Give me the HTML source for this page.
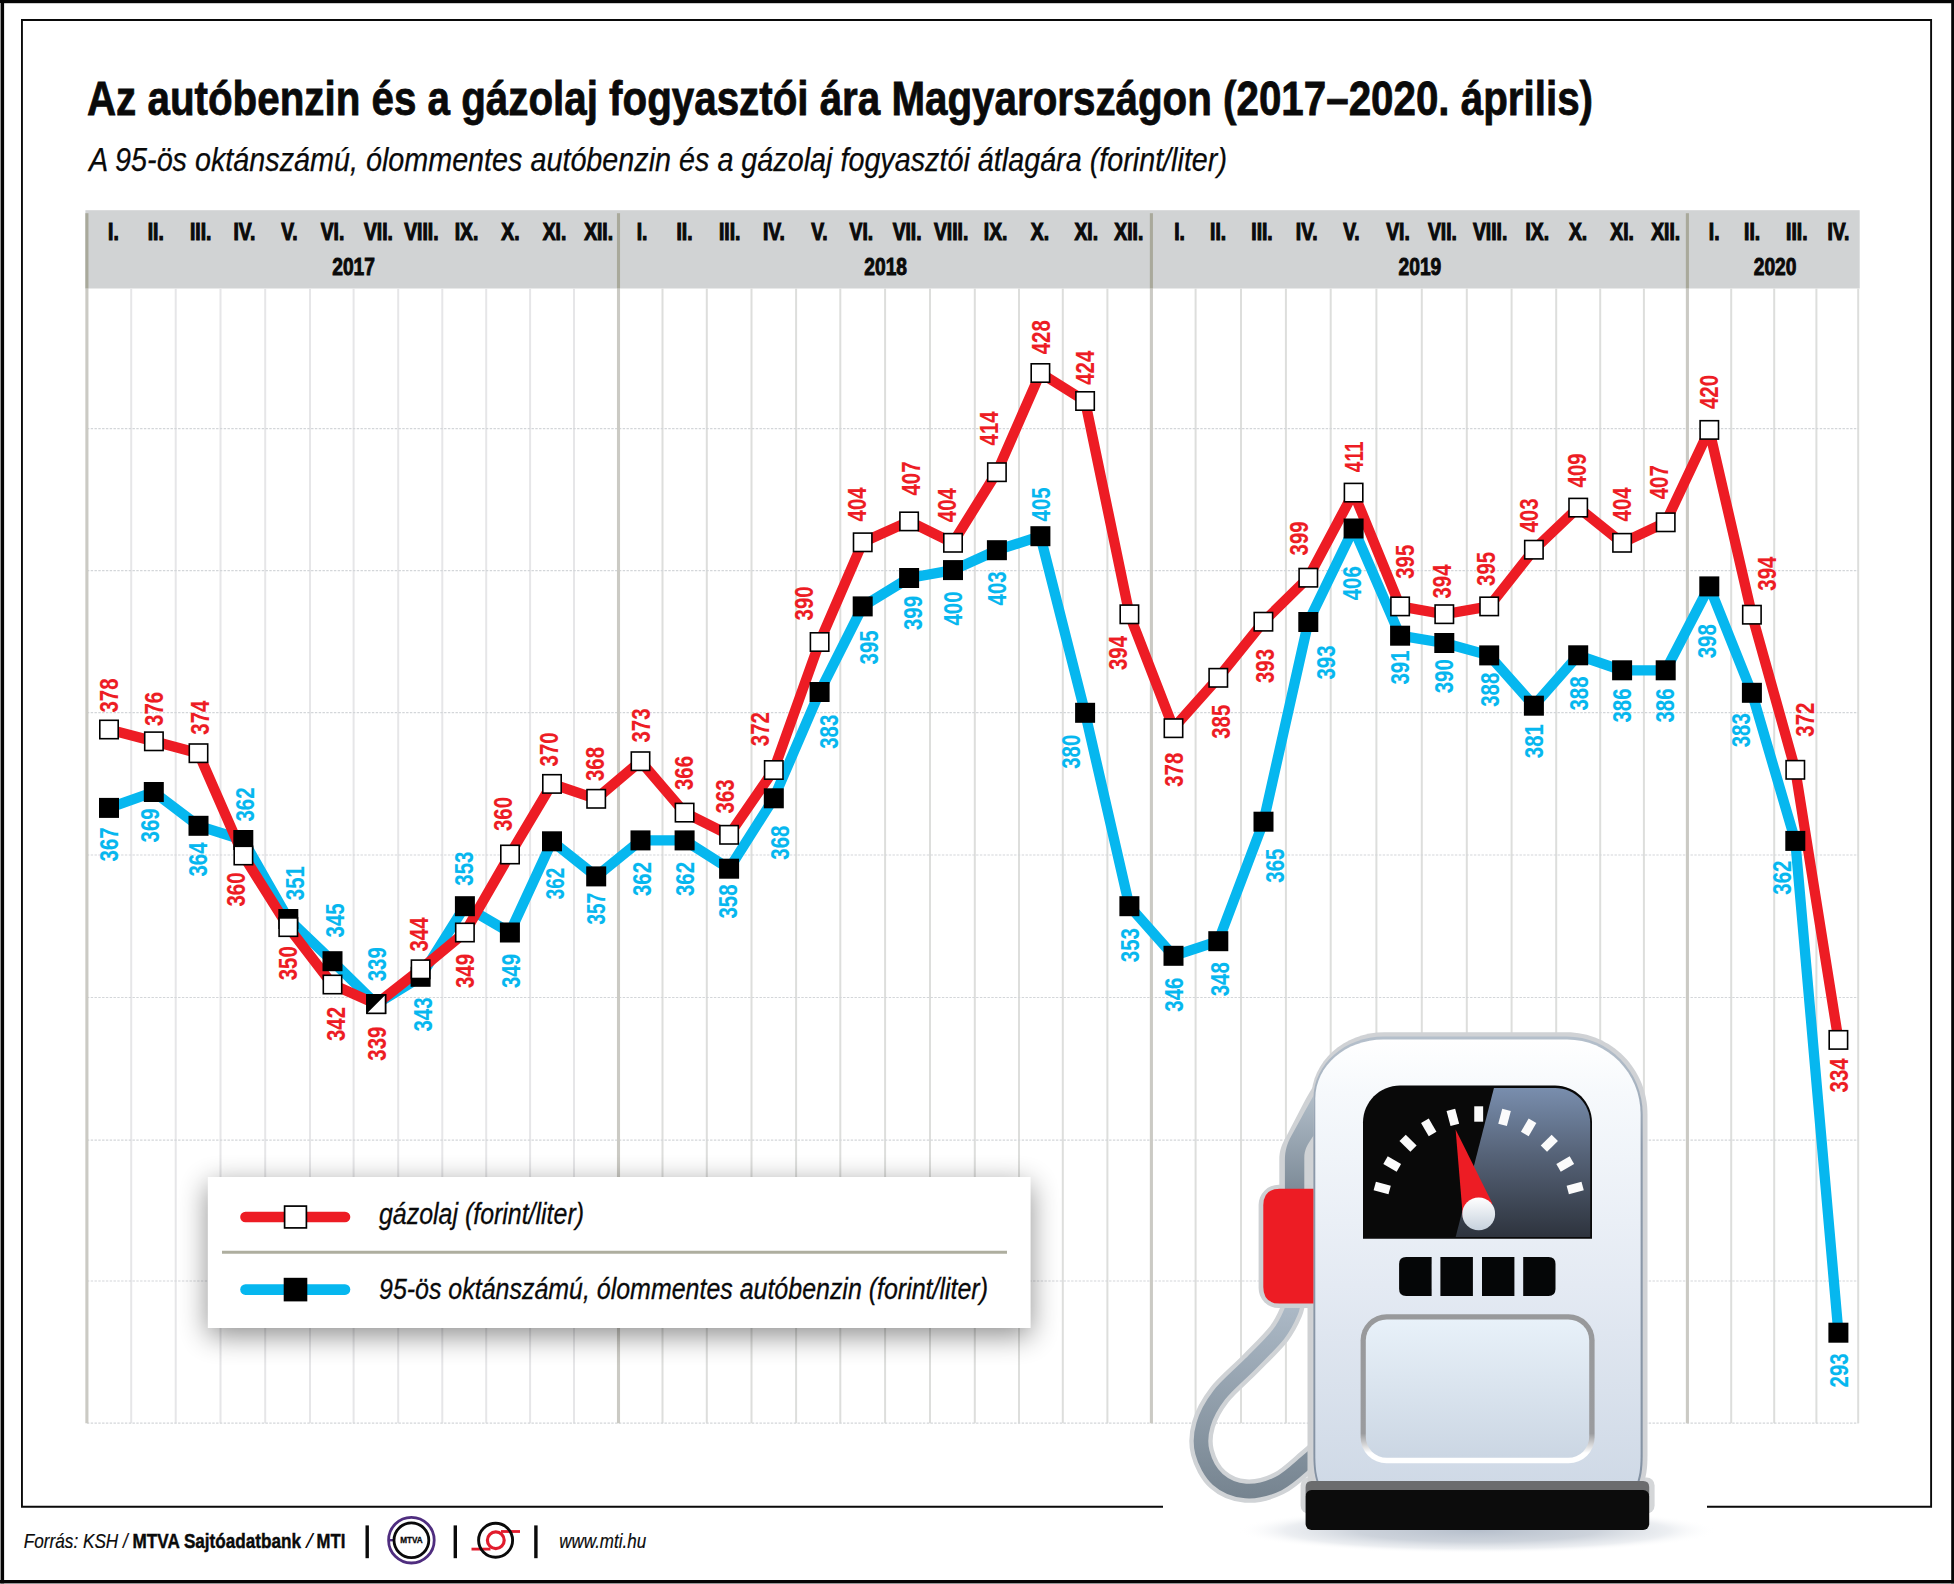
<!DOCTYPE html>
<html lang="hu"><head><meta charset="utf-8"><title>Az autóbenzin és a gázolaj fogyasztói ára Magyarországon</title>
<style>html,body{margin:0;padding:0;background:#fff;}svg{display:block;}text{font-family:"Liberation Sans",sans-serif;}</style>
</head><body>
<svg width="1954" height="1584" viewBox="0 0 1954 1584">
<defs>
<linearGradient id="gBody" x1="0" y1="0" x2="0" y2="1"><stop offset="0" stop-color="#ffffff"/><stop offset="0.12" stop-color="#f6f9fc"/><stop offset="0.55" stop-color="#e4eaf3"/><stop offset="1" stop-color="#cfd9e6"/></linearGradient>
<linearGradient id="gGauge" x1="0" y1="0" x2="0" y2="1"><stop offset="0" stop-color="#7d93b4"/><stop offset="0.45" stop-color="#566378"/><stop offset="1" stop-color="#2a2f38"/></linearGradient>
<linearGradient id="gPanel" x1="0" y1="0" x2="0" y2="1"><stop offset="0" stop-color="#e8f1f9"/><stop offset="1" stop-color="#cbd6e3"/></linearGradient>
<linearGradient id="gKnob" x1="0" y1="0" x2="0" y2="1"><stop offset="0" stop-color="#ffffff"/><stop offset="1" stop-color="#c6d1dd"/></linearGradient>
<linearGradient id="gHose" gradientUnits="userSpaceOnUse" x1="0" y1="1300" x2="0" y2="1500"><stop offset="0" stop-color="#aebbc8"/><stop offset="1" stop-color="#75838f"/></linearGradient>
<linearGradient id="gHose2" gradientUnits="userSpaceOnUse" x1="0" y1="1090" x2="0" y2="1190"><stop offset="0" stop-color="#b4c0cb"/><stop offset="1" stop-color="#7d8b98"/></linearGradient>
<filter id="fShadow" x="-10%" y="-60%" width="120%" height="220%"><feGaussianBlur stdDeviation="14.5"/></filter>
<filter id="fBase" x="-20%" y="-100%" width="140%" height="300%"><feGaussianBlur stdDeviation="7"/></filter>
</defs>
<rect x="0" y="0" width="1954" height="1584" fill="#ffffff"/>
<rect x="0" y="0" width="1954" height="3.2" fill="#050505"/><rect x="0" y="0" width="4.1" height="1584" fill="#050505"/><rect x="0" y="3" width="0.8" height="1581" fill="#b8b8b8"/><rect x="1951.2" y="0" width="2.8" height="1584" fill="#050505"/><rect x="0" y="1580" width="1954" height="3.3" fill="#050505"/><rect x="0" y="1583.3" width="1954" height="0.7" fill="#8a8a8a"/>
<path d="M1163 1506.8 L21.95 1506.8 L21.95 20 L1931.1 20 L1931.1 1506.8 L1707 1506.8" fill="none" stroke="#0a0a0a" stroke-width="1.9"/>
<text id="title" x="87" y="114.8" font-size="49" font-weight="bold" fill="#0a0a0a" stroke="#0a0a0a" stroke-width="0.8" textLength="1506" lengthAdjust="spacingAndGlyphs">Az autóbenzin és a gázolaj fogyasztói ára Magyarországon (2017–2020. április)</text>
<text id="subtitle" x="89" y="170.6" font-size="34" font-style="italic" fill="#0a0a0a" stroke="#0a0a0a" stroke-width="0.25" textLength="1138" lengthAdjust="spacingAndGlyphs">A 95-ös oktánszámú, ólommentes autóbenzin és a gázolaj fogyasztói átlagára (forint/liter)</text>
<rect x="85.4" y="210.2" width="1774.3" height="78.3" fill="#d1d3d4"/>
<g><line x1="131.2" y1="288.5" x2="131.2" y2="1423.2" stroke="#e6e6e8" stroke-width="2"/><line x1="175.7" y1="288.5" x2="175.7" y2="1423.2" stroke="#e6e6e8" stroke-width="2"/><line x1="220.5" y1="288.5" x2="220.5" y2="1423.2" stroke="#e6e6e8" stroke-width="2"/><line x1="265.2" y1="288.5" x2="265.2" y2="1423.2" stroke="#e6e6e8" stroke-width="2"/><line x1="310.0" y1="288.5" x2="310.0" y2="1423.2" stroke="#e6e6e8" stroke-width="2"/><line x1="353.6" y1="288.5" x2="353.6" y2="1423.2" stroke="#e6e6e8" stroke-width="2"/><line x1="398.2" y1="288.5" x2="398.2" y2="1423.2" stroke="#e6e6e8" stroke-width="2"/><line x1="442.3" y1="288.5" x2="442.3" y2="1423.2" stroke="#e6e6e8" stroke-width="2"/><line x1="486.2" y1="288.5" x2="486.2" y2="1423.2" stroke="#e6e6e8" stroke-width="2"/><line x1="530.1" y1="288.5" x2="530.1" y2="1423.2" stroke="#e6e6e8" stroke-width="2"/><line x1="574.0" y1="288.5" x2="574.0" y2="1423.2" stroke="#e6e6e8" stroke-width="2"/><line x1="662.5" y1="288.5" x2="662.5" y2="1423.2" stroke="#dddedc" stroke-width="2"/><line x1="706.8" y1="288.5" x2="706.8" y2="1423.2" stroke="#dddedc" stroke-width="2"/><line x1="751.5" y1="288.5" x2="751.5" y2="1423.2" stroke="#dddedc" stroke-width="2"/><line x1="796.1" y1="288.5" x2="796.1" y2="1423.2" stroke="#dddedc" stroke-width="2"/><line x1="840.3" y1="288.5" x2="840.3" y2="1423.2" stroke="#dddedc" stroke-width="2"/><line x1="885.1" y1="288.5" x2="885.1" y2="1423.2" stroke="#dddedc" stroke-width="2"/><line x1="930.0" y1="288.5" x2="930.0" y2="1423.2" stroke="#dddedc" stroke-width="2"/><line x1="974.8" y1="288.5" x2="974.8" y2="1423.2" stroke="#dddedc" stroke-width="2"/><line x1="1019.0" y1="288.5" x2="1019.0" y2="1423.2" stroke="#dddedc" stroke-width="2"/><line x1="1062.8" y1="288.5" x2="1062.8" y2="1423.2" stroke="#dddedc" stroke-width="2"/><line x1="1107.4" y1="288.5" x2="1107.4" y2="1423.2" stroke="#dddedc" stroke-width="2"/><line x1="1195.6" y1="288.5" x2="1195.6" y2="1423.2" stroke="#dddedc" stroke-width="2"/><line x1="1241.0" y1="288.5" x2="1241.0" y2="1423.2" stroke="#dddedc" stroke-width="2"/><line x1="1285.9" y1="288.5" x2="1285.9" y2="1423.2" stroke="#dddedc" stroke-width="2"/><line x1="1330.7" y1="288.5" x2="1330.7" y2="1423.2" stroke="#dddedc" stroke-width="2"/><line x1="1376.4" y1="288.5" x2="1376.4" y2="1423.2" stroke="#dddedc" stroke-width="2"/><line x1="1421.8" y1="288.5" x2="1421.8" y2="1423.2" stroke="#dddedc" stroke-width="2"/><line x1="1466.8" y1="288.5" x2="1466.8" y2="1423.2" stroke="#dddedc" stroke-width="2"/><line x1="1511.6" y1="288.5" x2="1511.6" y2="1423.2" stroke="#dddedc" stroke-width="2"/><line x1="1556.2" y1="288.5" x2="1556.2" y2="1423.2" stroke="#dddedc" stroke-width="2"/><line x1="1600.2" y1="288.5" x2="1600.2" y2="1423.2" stroke="#dddedc" stroke-width="2"/><line x1="1643.9" y1="288.5" x2="1643.9" y2="1423.2" stroke="#dddedc" stroke-width="2"/><line x1="1731.2" y1="288.5" x2="1731.2" y2="1423.2" stroke="#dddedc" stroke-width="2"/><line x1="1774.2" y1="288.5" x2="1774.2" y2="1423.2" stroke="#dddedc" stroke-width="2"/><line x1="1816.4" y1="288.5" x2="1816.4" y2="1423.2" stroke="#dddedc" stroke-width="2"/><line x1="1858.2" y1="288.5" x2="1858.2" y2="1423.2" stroke="#dddedc" stroke-width="2"/></g>
<g><line x1="86.9" y1="428.6" x2="1858.3" y2="428.6" stroke="#d3d6d9" stroke-width="1.2" stroke-dasharray="2.4 1.4"/><line x1="86.9" y1="570.6" x2="1858.3" y2="570.6" stroke="#d3d6d9" stroke-width="1.2" stroke-dasharray="2.4 1.4"/><line x1="86.9" y1="712.7" x2="1858.3" y2="712.7" stroke="#d3d6d9" stroke-width="1.2" stroke-dasharray="2.4 1.4"/><line x1="86.9" y1="855.0" x2="1858.3" y2="855.0" stroke="#d3d6d9" stroke-width="1.2" stroke-dasharray="2.4 1.4"/><line x1="86.9" y1="997.5" x2="1858.3" y2="997.5" stroke="#d3d6d9" stroke-width="1.2" stroke-dasharray="2.4 1.4"/><line x1="86.9" y1="1140.2" x2="1858.3" y2="1140.2" stroke="#d3d6d9" stroke-width="1.2" stroke-dasharray="2.4 1.4"/><line x1="86.9" y1="1281.0" x2="1858.3" y2="1281.0" stroke="#d3d6d9" stroke-width="1.2" stroke-dasharray="2.4 1.4"/><line x1="86.9" y1="1423.2" x2="1858.3" y2="1423.2" stroke="#d3d6d9" stroke-width="1.2" stroke-dasharray="2.4 1.4"/></g>
<line x1="86.9" y1="288.5" x2="86.9" y2="1423.2" stroke="#cbcac4" stroke-width="3.1"/>
<line x1="86.9" y1="213.2" x2="86.9" y2="288.5" stroke="#a9a99b" stroke-width="3.1"/>
<line x1="618.5" y1="288.5" x2="618.5" y2="1423.2" stroke="#cbcac4" stroke-width="3.1"/>
<line x1="618.5" y1="213.2" x2="618.5" y2="288.5" stroke="#a9a99b" stroke-width="3.1"/>
<line x1="1151.4" y1="288.5" x2="1151.4" y2="1423.2" stroke="#cbcac4" stroke-width="3.1"/>
<line x1="1151.4" y1="213.2" x2="1151.4" y2="288.5" stroke="#a9a99b" stroke-width="3.1"/>
<line x1="1687.4" y1="288.5" x2="1687.4" y2="1423.2" stroke="#cbcac4" stroke-width="3.1"/>
<line x1="1687.4" y1="213.2" x2="1687.4" y2="288.5" stroke="#a9a99b" stroke-width="3.1"/>
<g><text transform="translate(113.4 240.1) scale(0.825 1)" font-size="23.4" font-weight="bold" text-anchor="middle" fill="#0a0a0a" stroke="#0a0a0a" stroke-width="1.1" stroke-linejoin="miter">I.</text><text transform="translate(155.8 240.1) scale(0.825 1)" font-size="23.4" font-weight="bold" text-anchor="middle" fill="#0a0a0a" stroke="#0a0a0a" stroke-width="1.1" stroke-linejoin="miter">II.</text><text transform="translate(200.7 240.1) scale(0.825 1)" font-size="23.4" font-weight="bold" text-anchor="middle" fill="#0a0a0a" stroke="#0a0a0a" stroke-width="1.1" stroke-linejoin="miter">III.</text><text transform="translate(244.4 240.1) scale(0.825 1)" font-size="23.4" font-weight="bold" text-anchor="middle" fill="#0a0a0a" stroke="#0a0a0a" stroke-width="1.1" stroke-linejoin="miter">IV.</text><text transform="translate(289.4 240.1) scale(0.825 1)" font-size="23.4" font-weight="bold" text-anchor="middle" fill="#0a0a0a" stroke="#0a0a0a" stroke-width="1.1" stroke-linejoin="miter">V.</text><text transform="translate(332.5 240.1) scale(0.825 1)" font-size="23.4" font-weight="bold" text-anchor="middle" fill="#0a0a0a" stroke="#0a0a0a" stroke-width="1.1" stroke-linejoin="miter">VI.</text><text transform="translate(378.4 240.1) scale(0.825 1)" font-size="23.4" font-weight="bold" text-anchor="middle" fill="#0a0a0a" stroke="#0a0a0a" stroke-width="1.1" stroke-linejoin="miter">VII.</text><text transform="translate(421.4 240.1) scale(0.825 1)" font-size="23.4" font-weight="bold" text-anchor="middle" fill="#0a0a0a" stroke="#0a0a0a" stroke-width="1.1" stroke-linejoin="miter">VIII.</text><text transform="translate(466.5 240.1) scale(0.825 1)" font-size="23.4" font-weight="bold" text-anchor="middle" fill="#0a0a0a" stroke="#0a0a0a" stroke-width="1.1" stroke-linejoin="miter">IX.</text><text transform="translate(510.4 240.1) scale(0.825 1)" font-size="23.4" font-weight="bold" text-anchor="middle" fill="#0a0a0a" stroke="#0a0a0a" stroke-width="1.1" stroke-linejoin="miter">X.</text><text transform="translate(554.5 240.1) scale(0.825 1)" font-size="23.4" font-weight="bold" text-anchor="middle" fill="#0a0a0a" stroke="#0a0a0a" stroke-width="1.1" stroke-linejoin="miter">XI.</text><text transform="translate(598.6 240.1) scale(0.825 1)" font-size="23.4" font-weight="bold" text-anchor="middle" fill="#0a0a0a" stroke="#0a0a0a" stroke-width="1.1" stroke-linejoin="miter">XII.</text><text transform="translate(642.0 240.1) scale(0.825 1)" font-size="23.4" font-weight="bold" text-anchor="middle" fill="#0a0a0a" stroke="#0a0a0a" stroke-width="1.1" stroke-linejoin="miter">I.</text><text transform="translate(684.5 240.1) scale(0.825 1)" font-size="23.4" font-weight="bold" text-anchor="middle" fill="#0a0a0a" stroke="#0a0a0a" stroke-width="1.1" stroke-linejoin="miter">II.</text><text transform="translate(729.7 240.1) scale(0.825 1)" font-size="23.4" font-weight="bold" text-anchor="middle" fill="#0a0a0a" stroke="#0a0a0a" stroke-width="1.1" stroke-linejoin="miter">III.</text><text transform="translate(773.9 240.1) scale(0.825 1)" font-size="23.4" font-weight="bold" text-anchor="middle" fill="#0a0a0a" stroke="#0a0a0a" stroke-width="1.1" stroke-linejoin="miter">IV.</text><text transform="translate(819.4 240.1) scale(0.825 1)" font-size="23.4" font-weight="bold" text-anchor="middle" fill="#0a0a0a" stroke="#0a0a0a" stroke-width="1.1" stroke-linejoin="miter">V.</text><text transform="translate(861.4 240.1) scale(0.825 1)" font-size="23.4" font-weight="bold" text-anchor="middle" fill="#0a0a0a" stroke="#0a0a0a" stroke-width="1.1" stroke-linejoin="miter">VI.</text><text transform="translate(907.1 240.1) scale(0.825 1)" font-size="23.4" font-weight="bold" text-anchor="middle" fill="#0a0a0a" stroke="#0a0a0a" stroke-width="1.1" stroke-linejoin="miter">VII.</text><text transform="translate(951.1 240.1) scale(0.825 1)" font-size="23.4" font-weight="bold" text-anchor="middle" fill="#0a0a0a" stroke="#0a0a0a" stroke-width="1.1" stroke-linejoin="miter">VIII.</text><text transform="translate(995.6 240.1) scale(0.825 1)" font-size="23.4" font-weight="bold" text-anchor="middle" fill="#0a0a0a" stroke="#0a0a0a" stroke-width="1.1" stroke-linejoin="miter">IX.</text><text transform="translate(1039.9 240.1) scale(0.825 1)" font-size="23.4" font-weight="bold" text-anchor="middle" fill="#0a0a0a" stroke="#0a0a0a" stroke-width="1.1" stroke-linejoin="miter">X.</text><text transform="translate(1086.2 240.1) scale(0.825 1)" font-size="23.4" font-weight="bold" text-anchor="middle" fill="#0a0a0a" stroke="#0a0a0a" stroke-width="1.1" stroke-linejoin="miter">XI.</text><text transform="translate(1128.8 240.1) scale(0.825 1)" font-size="23.4" font-weight="bold" text-anchor="middle" fill="#0a0a0a" stroke="#0a0a0a" stroke-width="1.1" stroke-linejoin="miter">XII.</text><text transform="translate(1179.6 240.1) scale(0.825 1)" font-size="23.4" font-weight="bold" text-anchor="middle" fill="#0a0a0a" stroke="#0a0a0a" stroke-width="1.1" stroke-linejoin="miter">I.</text><text transform="translate(1218.1 240.1) scale(0.825 1)" font-size="23.4" font-weight="bold" text-anchor="middle" fill="#0a0a0a" stroke="#0a0a0a" stroke-width="1.1" stroke-linejoin="miter">II.</text><text transform="translate(1262.0 240.1) scale(0.825 1)" font-size="23.4" font-weight="bold" text-anchor="middle" fill="#0a0a0a" stroke="#0a0a0a" stroke-width="1.1" stroke-linejoin="miter">III.</text><text transform="translate(1306.7 240.1) scale(0.825 1)" font-size="23.4" font-weight="bold" text-anchor="middle" fill="#0a0a0a" stroke="#0a0a0a" stroke-width="1.1" stroke-linejoin="miter">IV.</text><text transform="translate(1351.5 240.1) scale(0.825 1)" font-size="23.4" font-weight="bold" text-anchor="middle" fill="#0a0a0a" stroke="#0a0a0a" stroke-width="1.1" stroke-linejoin="miter">V.</text><text transform="translate(1398.0 240.1) scale(0.825 1)" font-size="23.4" font-weight="bold" text-anchor="middle" fill="#0a0a0a" stroke="#0a0a0a" stroke-width="1.1" stroke-linejoin="miter">VI.</text><text transform="translate(1442.4 240.1) scale(0.825 1)" font-size="23.4" font-weight="bold" text-anchor="middle" fill="#0a0a0a" stroke="#0a0a0a" stroke-width="1.1" stroke-linejoin="miter">VII.</text><text transform="translate(1490.1 240.1) scale(0.825 1)" font-size="23.4" font-weight="bold" text-anchor="middle" fill="#0a0a0a" stroke="#0a0a0a" stroke-width="1.1" stroke-linejoin="miter">VIII.</text><text transform="translate(1537.2 240.1) scale(0.825 1)" font-size="23.4" font-weight="bold" text-anchor="middle" fill="#0a0a0a" stroke="#0a0a0a" stroke-width="1.1" stroke-linejoin="miter">IX.</text><text transform="translate(1578.1 240.1) scale(0.825 1)" font-size="23.4" font-weight="bold" text-anchor="middle" fill="#0a0a0a" stroke="#0a0a0a" stroke-width="1.1" stroke-linejoin="miter">X.</text><text transform="translate(1622.1 240.1) scale(0.825 1)" font-size="23.4" font-weight="bold" text-anchor="middle" fill="#0a0a0a" stroke="#0a0a0a" stroke-width="1.1" stroke-linejoin="miter">XI.</text><text transform="translate(1665.7 240.1) scale(0.825 1)" font-size="23.4" font-weight="bold" text-anchor="middle" fill="#0a0a0a" stroke="#0a0a0a" stroke-width="1.1" stroke-linejoin="miter">XII.</text><text transform="translate(1714.2 240.1) scale(0.825 1)" font-size="23.4" font-weight="bold" text-anchor="middle" fill="#0a0a0a" stroke="#0a0a0a" stroke-width="1.1" stroke-linejoin="miter">I.</text><text transform="translate(1752.1 240.1) scale(0.825 1)" font-size="23.4" font-weight="bold" text-anchor="middle" fill="#0a0a0a" stroke="#0a0a0a" stroke-width="1.1" stroke-linejoin="miter">II.</text><text transform="translate(1796.8 240.1) scale(0.825 1)" font-size="23.4" font-weight="bold" text-anchor="middle" fill="#0a0a0a" stroke="#0a0a0a" stroke-width="1.1" stroke-linejoin="miter">III.</text><text transform="translate(1838.4 240.1) scale(0.825 1)" font-size="23.4" font-weight="bold" text-anchor="middle" fill="#0a0a0a" stroke="#0a0a0a" stroke-width="1.1" stroke-linejoin="miter">IV.</text></g>
<text transform="translate(353.6 275.2) scale(0.81 1)" font-size="23.7" font-weight="bold" text-anchor="middle" fill="#0a0a0a" stroke="#0a0a0a" stroke-width="0.95">2017</text>
<text transform="translate(885.7 275.2) scale(0.81 1)" font-size="23.7" font-weight="bold" text-anchor="middle" fill="#0a0a0a" stroke="#0a0a0a" stroke-width="0.95">2018</text>
<text transform="translate(1419.9 275.2) scale(0.81 1)" font-size="23.7" font-weight="bold" text-anchor="middle" fill="#0a0a0a" stroke="#0a0a0a" stroke-width="0.95">2019</text>
<text transform="translate(1775.1 275.2) scale(0.81 1)" font-size="23.7" font-weight="bold" text-anchor="middle" fill="#0a0a0a" stroke="#0a0a0a" stroke-width="0.95">2020</text>
<polyline points="109.0,807.9 153.8,792.0 198.5,825.8 243.3,840.0 288.3,919.0 332.5,961.2 376.3,1004.1 420.6,976.8 464.9,906.2 509.9,932.5 552.0,841.3 596.2,876.4 640.5,840.4 684.6,840.4 729.1,868.7 773.8,798.3 819.6,692.0 862.7,606.4 909.1,578.0 953.0,570.1 996.9,550.2 1040.4,536.2 1085.1,712.8 1129.4,906.2 1173.5,955.8 1218.3,941.2 1263.5,821.7 1308.3,622.0 1353.6,528.5 1400.1,635.7 1444.3,643.0 1489.2,655.4 1533.9,705.7 1578.2,655.3 1622.1,670.3 1665.7,670.3 1709.3,586.4 1751.9,692.8 1795.3,840.9 1838.4,1332.7" fill="none" stroke="#06b7ef" stroke-width="10.3" stroke-linejoin="round" stroke-linecap="butt"/>
<polyline points="109.0,729.5 153.8,741.3 198.5,753.2 243.3,855.5 288.3,927.1 332.5,984.5 376.3,1004.1 420.6,969.3 464.9,932.5 509.9,854.5 552.0,783.9 596.2,798.8 640.5,761.2 684.6,812.6 729.1,834.8 773.8,770.0 819.6,642.0 862.7,542.3 909.1,521.4 953.0,542.8 996.9,472.2 1040.4,373.0 1085.1,401.0 1129.4,614.3 1173.5,728.2 1218.3,677.8 1263.5,621.7 1308.3,577.7 1353.6,492.6 1400.1,606.4 1444.3,614.2 1489.2,606.4 1533.9,549.7 1578.2,507.6 1622.1,542.8 1665.7,522.3 1709.3,429.9 1751.9,614.7 1795.3,769.8 1838.4,1039.9" fill="none" stroke="#ed1c24" stroke-width="10.3" stroke-linejoin="round" stroke-linecap="butt"/>
<g><rect x="99.0" y="797.9" width="20" height="20" fill="#000"/><rect x="143.8" y="782.0" width="20" height="20" fill="#000"/><rect x="188.5" y="815.8" width="20" height="20" fill="#000"/><rect x="233.3" y="830.0" width="20" height="20" fill="#000"/><rect x="278.3" y="909.0" width="20" height="20" fill="#000"/><rect x="322.5" y="951.2" width="20" height="20" fill="#000"/><rect x="366.3" y="994.1" width="20" height="20" fill="#000"/><rect x="410.6" y="966.8" width="20" height="20" fill="#000"/><rect x="454.9" y="896.2" width="20" height="20" fill="#000"/><rect x="499.9" y="922.5" width="20" height="20" fill="#000"/><rect x="542.0" y="831.3" width="20" height="20" fill="#000"/><rect x="586.2" y="866.4" width="20" height="20" fill="#000"/><rect x="630.5" y="830.4" width="20" height="20" fill="#000"/><rect x="674.6" y="830.4" width="20" height="20" fill="#000"/><rect x="719.1" y="858.7" width="20" height="20" fill="#000"/><rect x="763.8" y="788.3" width="20" height="20" fill="#000"/><rect x="809.6" y="682.0" width="20" height="20" fill="#000"/><rect x="852.7" y="596.4" width="20" height="20" fill="#000"/><rect x="899.1" y="568.0" width="20" height="20" fill="#000"/><rect x="943.0" y="560.1" width="20" height="20" fill="#000"/><rect x="986.9" y="540.2" width="20" height="20" fill="#000"/><rect x="1030.4" y="526.2" width="20" height="20" fill="#000"/><rect x="1075.1" y="702.8" width="20" height="20" fill="#000"/><rect x="1119.4" y="896.2" width="20" height="20" fill="#000"/><rect x="1163.5" y="945.8" width="20" height="20" fill="#000"/><rect x="1208.3" y="931.2" width="20" height="20" fill="#000"/><rect x="1253.5" y="811.7" width="20" height="20" fill="#000"/><rect x="1298.3" y="612.0" width="20" height="20" fill="#000"/><rect x="1343.6" y="518.5" width="20" height="20" fill="#000"/><rect x="1390.1" y="625.7" width="20" height="20" fill="#000"/><rect x="1434.3" y="633.0" width="20" height="20" fill="#000"/><rect x="1479.2" y="645.4" width="20" height="20" fill="#000"/><rect x="1523.9" y="695.7" width="20" height="20" fill="#000"/><rect x="1568.2" y="645.3" width="20" height="20" fill="#000"/><rect x="1612.1" y="660.3" width="20" height="20" fill="#000"/><rect x="1655.7" y="660.3" width="20" height="20" fill="#000"/><rect x="1699.3" y="576.4" width="20" height="20" fill="#000"/><rect x="1741.9" y="682.8" width="20" height="20" fill="#000"/><rect x="1785.3" y="830.9" width="20" height="20" fill="#000"/><rect x="1828.4" y="1322.7" width="20" height="20" fill="#000"/></g>
<g><rect x="99.8" y="720.3" width="18.4" height="18.4" fill="#fff" stroke="#000" stroke-width="1.6"/><rect x="144.7" y="732.1" width="18.4" height="18.4" fill="#fff" stroke="#000" stroke-width="1.6"/><rect x="189.3" y="744.0" width="18.4" height="18.4" fill="#fff" stroke="#000" stroke-width="1.6"/><rect x="234.2" y="846.3" width="18.4" height="18.4" fill="#fff" stroke="#000" stroke-width="1.6"/><rect x="279.1" y="917.9" width="18.4" height="18.4" fill="#fff" stroke="#000" stroke-width="1.6"/><rect x="323.3" y="975.3" width="18.4" height="18.4" fill="#fff" stroke="#000" stroke-width="1.6"/><rect x="367.1" y="994.9" width="18.4" height="18.4" fill="#fff" stroke="#000" stroke-width="1.6"/><path d="M366.3 994.1 L386.3 994.1 L366.3 1014.1 Z" fill="#000"/><rect x="411.4" y="960.1" width="18.4" height="18.4" fill="#fff" stroke="#000" stroke-width="1.6"/><rect x="455.7" y="923.3" width="18.4" height="18.4" fill="#fff" stroke="#000" stroke-width="1.6"/><rect x="500.8" y="845.3" width="18.4" height="18.4" fill="#fff" stroke="#000" stroke-width="1.6"/><rect x="542.8" y="774.7" width="18.4" height="18.4" fill="#fff" stroke="#000" stroke-width="1.6"/><rect x="587.0" y="789.6" width="18.4" height="18.4" fill="#fff" stroke="#000" stroke-width="1.6"/><rect x="631.3" y="752.0" width="18.4" height="18.4" fill="#fff" stroke="#000" stroke-width="1.6"/><rect x="675.4" y="803.4" width="18.4" height="18.4" fill="#fff" stroke="#000" stroke-width="1.6"/><rect x="719.9" y="825.6" width="18.4" height="18.4" fill="#fff" stroke="#000" stroke-width="1.6"/><rect x="764.6" y="760.8" width="18.4" height="18.4" fill="#fff" stroke="#000" stroke-width="1.6"/><rect x="810.4" y="632.8" width="18.4" height="18.4" fill="#fff" stroke="#000" stroke-width="1.6"/><rect x="853.5" y="533.1" width="18.4" height="18.4" fill="#fff" stroke="#000" stroke-width="1.6"/><rect x="899.9" y="512.2" width="18.4" height="18.4" fill="#fff" stroke="#000" stroke-width="1.6"/><rect x="943.8" y="533.6" width="18.4" height="18.4" fill="#fff" stroke="#000" stroke-width="1.6"/><rect x="987.7" y="463.0" width="18.4" height="18.4" fill="#fff" stroke="#000" stroke-width="1.6"/><rect x="1031.2" y="363.8" width="18.4" height="18.4" fill="#fff" stroke="#000" stroke-width="1.6"/><rect x="1075.9" y="391.8" width="18.4" height="18.4" fill="#fff" stroke="#000" stroke-width="1.6"/><rect x="1120.2" y="605.1" width="18.4" height="18.4" fill="#fff" stroke="#000" stroke-width="1.6"/><rect x="1164.3" y="719.0" width="18.4" height="18.4" fill="#fff" stroke="#000" stroke-width="1.6"/><rect x="1209.1" y="668.6" width="18.4" height="18.4" fill="#fff" stroke="#000" stroke-width="1.6"/><rect x="1254.2" y="612.5" width="18.4" height="18.4" fill="#fff" stroke="#000" stroke-width="1.6"/><rect x="1299.1" y="568.5" width="18.4" height="18.4" fill="#fff" stroke="#000" stroke-width="1.6"/><rect x="1344.4" y="483.4" width="18.4" height="18.4" fill="#fff" stroke="#000" stroke-width="1.6"/><rect x="1390.9" y="597.2" width="18.4" height="18.4" fill="#fff" stroke="#000" stroke-width="1.6"/><rect x="1435.1" y="605.0" width="18.4" height="18.4" fill="#fff" stroke="#000" stroke-width="1.6"/><rect x="1480.0" y="597.2" width="18.4" height="18.4" fill="#fff" stroke="#000" stroke-width="1.6"/><rect x="1524.7" y="540.5" width="18.4" height="18.4" fill="#fff" stroke="#000" stroke-width="1.6"/><rect x="1569.0" y="498.4" width="18.4" height="18.4" fill="#fff" stroke="#000" stroke-width="1.6"/><rect x="1612.9" y="533.6" width="18.4" height="18.4" fill="#fff" stroke="#000" stroke-width="1.6"/><rect x="1656.5" y="513.1" width="18.4" height="18.4" fill="#fff" stroke="#000" stroke-width="1.6"/><rect x="1700.1" y="420.7" width="18.4" height="18.4" fill="#fff" stroke="#000" stroke-width="1.6"/><rect x="1742.7" y="605.5" width="18.4" height="18.4" fill="#fff" stroke="#000" stroke-width="1.6"/><rect x="1786.1" y="760.6" width="18.4" height="18.4" fill="#fff" stroke="#000" stroke-width="1.6"/><rect x="1829.2" y="1030.7" width="18.4" height="18.4" fill="#fff" stroke="#000" stroke-width="1.6"/></g>
<g id="labels"><text transform="translate(118.4 712.6) rotate(-90) scale(0.784 1)" font-size="26.1" font-weight="bold" fill="#ed1c24" stroke="#ed1c24" stroke-width="0.15">378</text><text transform="translate(163.2 725.9) rotate(-90) scale(0.784 1)" font-size="26.1" font-weight="bold" fill="#ed1c24" stroke="#ed1c24" stroke-width="0.15">376</text><text transform="translate(208.8 734.7) rotate(-90) scale(0.784 1)" font-size="26.1" font-weight="bold" fill="#ed1c24" stroke="#ed1c24" stroke-width="0.15">374</text><text transform="translate(245.0 906.6) rotate(-90) scale(0.784 1)" font-size="26.1" font-weight="bold" fill="#ed1c24" stroke="#ed1c24" stroke-width="0.15">360</text><text transform="translate(296.6 980.3) rotate(-90) scale(0.784 1)" font-size="26.1" font-weight="bold" fill="#ed1c24" stroke="#ed1c24" stroke-width="0.15">350</text><text transform="translate(344.6 1041.1) rotate(-90) scale(0.784 1)" font-size="26.1" font-weight="bold" fill="#ed1c24" stroke="#ed1c24" stroke-width="0.15">342</text><text transform="translate(386.1 1060.7) rotate(-90) scale(0.784 1)" font-size="26.1" font-weight="bold" fill="#ed1c24" stroke="#ed1c24" stroke-width="0.15">339</text><text transform="translate(428.3 951.5) rotate(-90) scale(0.784 1)" font-size="26.1" font-weight="bold" fill="#ed1c24" stroke="#ed1c24" stroke-width="0.15">344</text><text transform="translate(473.9 988.0) rotate(-90) scale(0.784 1)" font-size="26.1" font-weight="bold" fill="#ed1c24" stroke="#ed1c24" stroke-width="0.15">349</text><text transform="translate(511.8 831.0) rotate(-90) scale(0.784 1)" font-size="26.1" font-weight="bold" fill="#ed1c24" stroke="#ed1c24" stroke-width="0.15">360</text><text transform="translate(558.4 766.4) rotate(-90) scale(0.784 1)" font-size="26.1" font-weight="bold" fill="#ed1c24" stroke="#ed1c24" stroke-width="0.15">370</text><text transform="translate(604.0 781.0) rotate(-90) scale(0.784 1)" font-size="26.1" font-weight="bold" fill="#ed1c24" stroke="#ed1c24" stroke-width="0.15">368</text><text transform="translate(650.2 742.6) rotate(-90) scale(0.784 1)" font-size="26.1" font-weight="bold" fill="#ed1c24" stroke="#ed1c24" stroke-width="0.15">373</text><text transform="translate(693.2 790.0) rotate(-90) scale(0.784 1)" font-size="26.1" font-weight="bold" fill="#ed1c24" stroke="#ed1c24" stroke-width="0.15">366</text><text transform="translate(733.8 813.4) rotate(-90) scale(0.784 1)" font-size="26.1" font-weight="bold" fill="#ed1c24" stroke="#ed1c24" stroke-width="0.15">363</text><text transform="translate(768.9 746.2) rotate(-90) scale(0.784 1)" font-size="26.1" font-weight="bold" fill="#ed1c24" stroke="#ed1c24" stroke-width="0.15">372</text><text transform="translate(813.2 620.4) rotate(-90) scale(0.784 1)" font-size="26.1" font-weight="bold" fill="#ed1c24" stroke="#ed1c24" stroke-width="0.15">390</text><text transform="translate(866.1 521.4) rotate(-90) scale(0.784 1)" font-size="26.1" font-weight="bold" fill="#ed1c24" stroke="#ed1c24" stroke-width="0.15">404</text><text transform="translate(919.6 495.6) rotate(-90) scale(0.784 1)" font-size="26.1" font-weight="bold" fill="#ed1c24" stroke="#ed1c24" stroke-width="0.15">407</text><text transform="translate(956.0 522.2) rotate(-90) scale(0.784 1)" font-size="26.1" font-weight="bold" fill="#ed1c24" stroke="#ed1c24" stroke-width="0.15">404</text><text transform="translate(997.9 445.4) rotate(-90) scale(0.784 1)" font-size="26.1" font-weight="bold" fill="#ed1c24" stroke="#ed1c24" stroke-width="0.15">414</text><text transform="translate(1050.4 354.3) rotate(-90) scale(0.784 1)" font-size="26.1" font-weight="bold" fill="#ed1c24" stroke="#ed1c24" stroke-width="0.15">428</text><text transform="translate(1094.4 384.8) rotate(-90) scale(0.784 1)" font-size="26.1" font-weight="bold" fill="#ed1c24" stroke="#ed1c24" stroke-width="0.15">424</text><text transform="translate(1126.5 670.0) rotate(-90) scale(0.784 1)" font-size="26.1" font-weight="bold" fill="#ed1c24" stroke="#ed1c24" stroke-width="0.15">394</text><text transform="translate(1183.1 786.8) rotate(-90) scale(0.784 1)" font-size="26.1" font-weight="bold" fill="#ed1c24" stroke="#ed1c24" stroke-width="0.15">378</text><text transform="translate(1229.7 738.8) rotate(-90) scale(0.784 1)" font-size="26.1" font-weight="bold" fill="#ed1c24" stroke="#ed1c24" stroke-width="0.15">385</text><text transform="translate(1273.6 683.0) rotate(-90) scale(0.784 1)" font-size="26.1" font-weight="bold" fill="#ed1c24" stroke="#ed1c24" stroke-width="0.15">393</text><text transform="translate(1307.7 555.4) rotate(-90) scale(0.784 1)" font-size="26.1" font-weight="bold" fill="#ed1c24" stroke="#ed1c24" stroke-width="0.15">399</text><text transform="translate(1363.1 472.2) rotate(-90) scale(0.729 1)" font-size="26.1" font-weight="bold" fill="#ed1c24" stroke="#ed1c24" stroke-width="0.15">411</text><text transform="translate(1413.6 578.8) rotate(-90) scale(0.784 1)" font-size="26.1" font-weight="bold" fill="#ed1c24" stroke="#ed1c24" stroke-width="0.15">395</text><text transform="translate(1451.0 598.5) rotate(-90) scale(0.784 1)" font-size="26.1" font-weight="bold" fill="#ed1c24" stroke="#ed1c24" stroke-width="0.15">394</text><text transform="translate(1494.8 585.9) rotate(-90) scale(0.784 1)" font-size="26.1" font-weight="bold" fill="#ed1c24" stroke="#ed1c24" stroke-width="0.15">395</text><text transform="translate(1537.7 532.5) rotate(-90) scale(0.784 1)" font-size="26.1" font-weight="bold" fill="#ed1c24" stroke="#ed1c24" stroke-width="0.15">403</text><text transform="translate(1585.7 487.4) rotate(-90) scale(0.784 1)" font-size="26.1" font-weight="bold" fill="#ed1c24" stroke="#ed1c24" stroke-width="0.15">409</text><text transform="translate(1631.4 521.4) rotate(-90) scale(0.784 1)" font-size="26.1" font-weight="bold" fill="#ed1c24" stroke="#ed1c24" stroke-width="0.15">404</text><text transform="translate(1668.4 499.3) rotate(-90) scale(0.784 1)" font-size="26.1" font-weight="bold" fill="#ed1c24" stroke="#ed1c24" stroke-width="0.15">407</text><text transform="translate(1717.8 409.0) rotate(-90) scale(0.784 1)" font-size="26.1" font-weight="bold" fill="#ed1c24" stroke="#ed1c24" stroke-width="0.15">420</text><text transform="translate(1775.5 590.7) rotate(-90) scale(0.784 1)" font-size="26.1" font-weight="bold" fill="#ed1c24" stroke="#ed1c24" stroke-width="0.15">394</text><text transform="translate(1813.6 736.7) rotate(-90) scale(0.784 1)" font-size="26.1" font-weight="bold" fill="#ed1c24" stroke="#ed1c24" stroke-width="0.15">372</text><text transform="translate(1848.2 1092.4) rotate(-90) scale(0.784 1)" font-size="26.1" font-weight="bold" fill="#ed1c24" stroke="#ed1c24" stroke-width="0.15">334</text><text transform="translate(118.4 861.4) rotate(-90) scale(0.784 1)" font-size="26.1" font-weight="bold" fill="#06b7ef" stroke="#06b7ef" stroke-width="0.15">367</text><text transform="translate(159.2 842.4) rotate(-90) scale(0.784 1)" font-size="26.1" font-weight="bold" fill="#06b7ef" stroke="#06b7ef" stroke-width="0.15">369</text><text transform="translate(207.2 876.6) rotate(-90) scale(0.784 1)" font-size="26.1" font-weight="bold" fill="#06b7ef" stroke="#06b7ef" stroke-width="0.15">364</text><text transform="translate(253.5 821.5) rotate(-90) scale(0.784 1)" font-size="26.1" font-weight="bold" fill="#06b7ef" stroke="#06b7ef" stroke-width="0.15">362</text><text transform="translate(304.4 900.2) rotate(-90) scale(0.784 1)" font-size="26.1" font-weight="bold" fill="#06b7ef" stroke="#06b7ef" stroke-width="0.15">351</text><text transform="translate(343.9 937.4) rotate(-90) scale(0.784 1)" font-size="26.1" font-weight="bold" fill="#06b7ef" stroke="#06b7ef" stroke-width="0.15">345</text><text transform="translate(386.1 981.3) rotate(-90) scale(0.784 1)" font-size="26.1" font-weight="bold" fill="#06b7ef" stroke="#06b7ef" stroke-width="0.15">339</text><text transform="translate(432.4 1031.6) rotate(-90) scale(0.784 1)" font-size="26.1" font-weight="bold" fill="#06b7ef" stroke="#06b7ef" stroke-width="0.15">343</text><text transform="translate(472.9 885.7) rotate(-90) scale(0.784 1)" font-size="26.1" font-weight="bold" fill="#06b7ef" stroke="#06b7ef" stroke-width="0.15">353</text><text transform="translate(519.5 988.0) rotate(-90) scale(0.784 1)" font-size="26.1" font-weight="bold" fill="#06b7ef" stroke="#06b7ef" stroke-width="0.15">349</text><text transform="translate(564.4 899.2) rotate(-90) scale(0.721 1)" font-size="26.1" font-weight="bold" fill="#06b7ef" stroke="#06b7ef" stroke-width="0.15">362</text><text transform="translate(605.0 924.5) rotate(-90) scale(0.721 1)" font-size="26.1" font-weight="bold" fill="#06b7ef" stroke="#06b7ef" stroke-width="0.15">357</text><text transform="translate(651.2 896.1) rotate(-90) scale(0.784 1)" font-size="26.1" font-weight="bold" fill="#06b7ef" stroke="#06b7ef" stroke-width="0.15">362</text><text transform="translate(693.6 896.1) rotate(-90) scale(0.784 1)" font-size="26.1" font-weight="bold" fill="#06b7ef" stroke="#06b7ef" stroke-width="0.15">362</text><text transform="translate(736.9 918.5) rotate(-90) scale(0.784 1)" font-size="26.1" font-weight="bold" fill="#06b7ef" stroke="#06b7ef" stroke-width="0.15">358</text><text transform="translate(788.6 859.7) rotate(-90) scale(0.784 1)" font-size="26.1" font-weight="bold" fill="#06b7ef" stroke="#06b7ef" stroke-width="0.15">368</text><text transform="translate(837.9 748.8) rotate(-90) scale(0.784 1)" font-size="26.1" font-weight="bold" fill="#06b7ef" stroke="#06b7ef" stroke-width="0.15">383</text><text transform="translate(877.9 664.4) rotate(-90) scale(0.784 1)" font-size="26.1" font-weight="bold" fill="#06b7ef" stroke="#06b7ef" stroke-width="0.15">395</text><text transform="translate(921.6 630.0) rotate(-90) scale(0.784 1)" font-size="26.1" font-weight="bold" fill="#06b7ef" stroke="#06b7ef" stroke-width="0.15">399</text><text transform="translate(961.9 625.6) rotate(-90) scale(0.784 1)" font-size="26.1" font-weight="bold" fill="#06b7ef" stroke="#06b7ef" stroke-width="0.15">400</text><text transform="translate(1006.4 605.4) rotate(-90) scale(0.784 1)" font-size="26.1" font-weight="bold" fill="#06b7ef" stroke="#06b7ef" stroke-width="0.15">403</text><text transform="translate(1049.6 521.4) rotate(-90) scale(0.784 1)" font-size="26.1" font-weight="bold" fill="#06b7ef" stroke="#06b7ef" stroke-width="0.15">405</text><text transform="translate(1079.9 768.8) rotate(-90) scale(0.784 1)" font-size="26.1" font-weight="bold" fill="#06b7ef" stroke="#06b7ef" stroke-width="0.15">380</text><text transform="translate(1139.2 962.2) rotate(-90) scale(0.784 1)" font-size="26.1" font-weight="bold" fill="#06b7ef" stroke="#06b7ef" stroke-width="0.15">353</text><text transform="translate(1183.1 1011.7) rotate(-90) scale(0.784 1)" font-size="26.1" font-weight="bold" fill="#06b7ef" stroke="#06b7ef" stroke-width="0.15">346</text><text transform="translate(1228.8 996.3) rotate(-90) scale(0.784 1)" font-size="26.1" font-weight="bold" fill="#06b7ef" stroke="#06b7ef" stroke-width="0.15">348</text><text transform="translate(1284.0 882.7) rotate(-90) scale(0.784 1)" font-size="26.1" font-weight="bold" fill="#06b7ef" stroke="#06b7ef" stroke-width="0.15">365</text><text transform="translate(1335.2 679.6) rotate(-90) scale(0.784 1)" font-size="26.1" font-weight="bold" fill="#06b7ef" stroke="#06b7ef" stroke-width="0.15">393</text><text transform="translate(1361.2 600.3) rotate(-90) scale(0.784 1)" font-size="26.1" font-weight="bold" fill="#06b7ef" stroke="#06b7ef" stroke-width="0.15">406</text><text transform="translate(1408.7 684.5) rotate(-90) scale(0.784 1)" font-size="26.1" font-weight="bold" fill="#06b7ef" stroke="#06b7ef" stroke-width="0.15">391</text><text transform="translate(1452.7 693.3) rotate(-90) scale(0.784 1)" font-size="26.1" font-weight="bold" fill="#06b7ef" stroke="#06b7ef" stroke-width="0.15">390</text><text transform="translate(1498.7 706.8) rotate(-90) scale(0.784 1)" font-size="26.1" font-weight="bold" fill="#06b7ef" stroke="#06b7ef" stroke-width="0.15">388</text><text transform="translate(1542.6 758.2) rotate(-90) scale(0.784 1)" font-size="26.1" font-weight="bold" fill="#06b7ef" stroke="#06b7ef" stroke-width="0.15">381</text><text transform="translate(1587.6 710.5) rotate(-90) scale(0.784 1)" font-size="26.1" font-weight="bold" fill="#06b7ef" stroke="#06b7ef" stroke-width="0.15">388</text><text transform="translate(1631.2 722.5) rotate(-90) scale(0.784 1)" font-size="26.1" font-weight="bold" fill="#06b7ef" stroke="#06b7ef" stroke-width="0.15">386</text><text transform="translate(1674.2 722.5) rotate(-90) scale(0.784 1)" font-size="26.1" font-weight="bold" fill="#06b7ef" stroke="#06b7ef" stroke-width="0.15">386</text><text transform="translate(1715.9 658.3) rotate(-90) scale(0.784 1)" font-size="26.1" font-weight="bold" fill="#06b7ef" stroke="#06b7ef" stroke-width="0.15">398</text><text transform="translate(1750.0 747.3) rotate(-90) scale(0.784 1)" font-size="26.1" font-weight="bold" fill="#06b7ef" stroke="#06b7ef" stroke-width="0.15">383</text><text transform="translate(1790.7 894.7) rotate(-90) scale(0.784 1)" font-size="26.1" font-weight="bold" fill="#06b7ef" stroke="#06b7ef" stroke-width="0.15">362</text><text transform="translate(1847.9 1387.4) rotate(-90) scale(0.784 1)" font-size="26.1" font-weight="bold" fill="#06b7ef" stroke="#06b7ef" stroke-width="0.15">293</text></g>
<rect x="207.8" y="1184.5" width="822.8" height="151" fill="#000" opacity="0.45" filter="url(#fShadow)"/>
<rect x="207.8" y="1177" width="822.8" height="151" fill="#ffffff"/>
<line x1="245.5" y1="1217" x2="345" y2="1217" stroke="#ed1c24" stroke-width="10.6" stroke-linecap="round"/>
<rect x="284.6" y="1206.1" width="21.8" height="21.8" fill="#fff" stroke="#000" stroke-width="1.7"/>
<line x1="222" y1="1252.3" x2="1007" y2="1252.3" stroke="#aeae9f" stroke-width="3"/>
<line x1="245.5" y1="1289.6" x2="345" y2="1289.6" stroke="#06b7ef" stroke-width="10.6" stroke-linecap="round"/>
<rect x="283.7" y="1277.8" width="23.6" height="23.6" fill="#000"/>
<text x="379" y="1223.7" font-size="29" font-style="italic" fill="#0a0a0a" stroke="#0a0a0a" stroke-width="0.3" textLength="205" lengthAdjust="spacingAndGlyphs">gázolaj (forint/liter)</text>
<text x="379" y="1299.4" font-size="29" font-style="italic" fill="#0a0a0a" stroke="#0a0a0a" stroke-width="0.3" textLength="609" lengthAdjust="spacingAndGlyphs">95-ös oktánszámú, ólommentes autóbenzin (forint/liter)</text>
<g id="pump">
<defs><radialGradient id="gShadow" cx="0.5" cy="0.5" r="0.5"><stop offset="0" stop-color="#aeb8c6" stop-opacity="0.9"/><stop offset="0.5" stop-color="#bcc4cf" stop-opacity="0.75"/><stop offset="0.8" stop-color="#d0d6de" stop-opacity="0.4"/><stop offset="1" stop-color="#ffffff" stop-opacity="0"/></radialGradient></defs>
<ellipse cx="1477" cy="1530.5" rx="240" ry="23" fill="url(#gShadow)"/>
<path d="M1294.5 1296.0 C1293.9 1298.7 1293.7 1305.6 1291.0 1312.0 C1288.3 1318.4 1285.2 1325.6 1278.5 1334.2 C1271.8 1342.8 1260.4 1353.6 1250.6 1363.7 C1240.8 1373.8 1227.2 1384.8 1219.4 1394.9 C1211.6 1405.0 1206.3 1414.9 1203.5 1424.5 C1200.7 1434.1 1200.0 1443.2 1202.4 1452.4 C1204.8 1461.6 1210.6 1473.1 1217.8 1479.5 C1225.0 1485.9 1235.6 1490.3 1245.7 1491.0 C1255.8 1491.7 1268.1 1488.7 1278.5 1483.6 C1288.9 1478.5 1300.8 1466.5 1308.0 1460.6 C1315.2 1454.7 1319.7 1450.1 1322.0 1448.0" fill="none" stroke="#d0d3d6" stroke-width="23.4" stroke-linecap="butt"/>
<path d="M1294.5 1296.0 C1293.9 1298.7 1293.7 1305.6 1291.0 1312.0 C1288.3 1318.4 1285.2 1325.6 1278.5 1334.2 C1271.8 1342.8 1260.4 1353.6 1250.6 1363.7 C1240.8 1373.8 1227.2 1384.8 1219.4 1394.9 C1211.6 1405.0 1206.3 1414.9 1203.5 1424.5 C1200.7 1434.1 1200.0 1443.2 1202.4 1452.4 C1204.8 1461.6 1210.6 1473.1 1217.8 1479.5 C1225.0 1485.9 1235.6 1490.3 1245.7 1491.0 C1255.8 1491.7 1268.1 1488.7 1278.5 1483.6 C1288.9 1478.5 1300.8 1466.5 1308.0 1460.6 C1315.2 1454.7 1319.7 1450.1 1322.0 1448.0" fill="none" stroke="url(#gHose)" stroke-width="14.6" stroke-linecap="butt"/>
<path d="M1279.3 1195 L1279.3 1160 C1279.3 1150 1282 1144 1286 1137 L1300 1110 C1304 1102 1308 1095 1312.5 1087.5 L1322 1084 L1322 1195 Z" fill="#cfd2d5"/>
<rect x="1258.6" y="1184.8" width="70" height="123.2" rx="20" ry="20" fill="#cdd0d3"/>
<rect x="1300.6" y="1477.5" width="354" height="36" rx="8" ry="8" fill="#d4d6d8"/>
<defs><linearGradient id="gEdge" gradientUnits="userSpaceOnUse" x1="0" y1="1034" x2="0" y2="1486"><stop offset="0" stop-color="#b5c0cc"/><stop offset="0.1" stop-color="#a9b5c2"/><stop offset="0.25" stop-color="#8c99aa"/><stop offset="1" stop-color="#8492a3"/></linearGradient></defs>
<rect x="1307.5" y="1305" width="7" height="179" fill="#cfd1d3"/>
<path d="M1316.3 1486.0 C1312.8 1478.0 1311.3 1470.0 1311.3 1454.0 L1311.3 1098.2 C1311.3 1061.7 1344.0 1032.2 1384.3 1032.2 L1566.5 1032.2 C1611.2 1032.2 1647.5 1068.9 1647.5 1114.2 L1647.5 1454.0 C1647.5 1470.0 1646.0 1478.0 1642.5 1486.0 Z" fill="#d0d2d5"/>
<path d="M1318.4 1486.0 C1314.9 1478.0 1313.4 1470.0 1313.4 1454.0 L1313.4 1098.4 C1313.4 1064.2 1345.0 1036.4 1383.9 1036.4 L1566.7 1036.4 C1608.7 1036.4 1642.7 1071.1 1642.7 1113.9 L1642.7 1454.0 C1642.7 1470.0 1641.2 1478.0 1637.7 1486.0 Z" fill="url(#gEdge)"/>
<path d="M1320.3 1486.0 C1316.8 1478.0 1315.3 1470.0 1315.3 1454.0 L1315.3 1098.6 C1315.3 1066.0 1345.7 1039.6 1383.3 1039.6 L1567.1 1039.6 C1607.7 1039.6 1640.6 1073.0 1640.6 1114.1 L1640.6 1454.0 C1640.6 1470.0 1639.1 1478.0 1635.6 1486.0 Z" fill="url(#gBody)"/>
<path d="M1284.9 1195 L1284.9 1160 C1284.9 1150 1287.5 1143 1291 1136.5 L1302 1116.5 C1306 1109 1310 1102 1313.6 1095.5 L1313.6 1135.5 L1311.9 1138 C1307.5 1144.5 1304.3 1149.5 1304.3 1158 L1304.3 1195 Z" fill="url(#gHose2)"/>
<path d="M1313.4 1188.8 L1279.8 1188.8 Q1263.3 1188.8 1263.3 1205.3 L1263.3 1287.1 Q1263.3 1303.6 1279.8 1303.6 L1313.4 1303.6 Z" fill="#ed1c24"/>
<path d="M1363.0 1238.7 L1363.0 1122.4 C1363.0 1102.0 1379.6 1085.4 1400.0 1085.4 L1555.0 1085.4 C1575.4 1085.4 1592.0 1102.0 1592.0 1122.4 L1592.0 1238.7 L1363.0 1238.7 Z" fill="#090909"/>
<clipPath id="cpG"><path d="M1364.8 1236.9 L1364.8 1122.9 C1364.8 1103.6 1380.5 1087.9 1399.8 1087.9 L1555.2 1087.9 C1574.5 1087.9 1590.2 1103.6 1590.2 1122.9 L1590.2 1236.9 L1364.8 1236.9 Z"/></clipPath>
<path d="M1496 1080 L1600 1080 L1600 1245 L1453.6 1245 Z" fill="url(#gGauge)" clip-path="url(#cpG)"/>
<rect x="1474.25" y="1106.30" width="8.9" height="15.4" fill="#fbfbfb" transform="rotate(-75 1478.7 1213.9)"/>
<rect x="1474.25" y="1106.30" width="8.9" height="15.4" fill="#fbfbfb" transform="rotate(-60 1478.7 1213.9)"/>
<rect x="1474.25" y="1106.30" width="8.9" height="15.4" fill="#fbfbfb" transform="rotate(-45 1478.7 1213.9)"/>
<rect x="1474.25" y="1106.30" width="8.9" height="15.4" fill="#fbfbfb" transform="rotate(-30 1478.7 1213.9)"/>
<rect x="1474.25" y="1106.30" width="8.9" height="15.4" fill="#fbfbfb" transform="rotate(-15 1478.7 1213.9)"/>
<rect x="1474.25" y="1106.30" width="8.9" height="15.4" fill="#fbfbfb" transform="rotate(0 1478.7 1213.9)"/>
<rect x="1474.25" y="1106.30" width="8.9" height="15.4" fill="#fbfbfb" transform="rotate(15 1478.7 1213.9)"/>
<rect x="1474.25" y="1106.30" width="8.9" height="15.4" fill="#fbfbfb" transform="rotate(30 1478.7 1213.9)"/>
<rect x="1474.25" y="1106.30" width="8.9" height="15.4" fill="#fbfbfb" transform="rotate(45 1478.7 1213.9)"/>
<rect x="1474.25" y="1106.30" width="8.9" height="15.4" fill="#fbfbfb" transform="rotate(60 1478.7 1213.9)"/>
<rect x="1474.25" y="1106.30" width="8.9" height="15.4" fill="#fbfbfb" transform="rotate(75 1478.7 1213.9)"/>
<path d="M1455.6 1129.6 L1492.4 1203.5 L1463.0 1218.5 Z" fill="#ed1c24"/>
<circle cx="1478.7" cy="1213.9" r="16.4" fill="url(#gKnob)"/>
<path d="M1406.1 1257 L1431.6 1257 L1431.6 1296 L1406.1 1296 Q1399.1 1296 1399.1 1289 L1399.1 1264 Q1399.1 1257 1406.1 1257 Z" fill="#050607"/>
<rect x="1440.4" y="1257" width="32.5" height="39" fill="#050607"/>
<rect x="1482.0" y="1257" width="32.4" height="39" fill="#050607"/>
<path d="M1523.2 1257 L1548.5 1257 Q1555.5 1257 1555.5 1264 L1555.5 1289 Q1555.5 1296 1548.5 1296 L1523.2 1296 Z" fill="#050607"/>
<defs><linearGradient id="gPanelB" x1="0" y1="0" x2="0" y2="1"><stop offset="0" stop-color="#98999b"/><stop offset="0.8" stop-color="#9a9b9e"/><stop offset="0.93" stop-color="#ffffff"/><stop offset="1" stop-color="#ffffff"/></linearGradient></defs>
<rect x="1360.6" y="1314.3" width="234" height="149" rx="26" ry="26" fill="url(#gPanelB)"/>
<rect x="1365.8" y="1319.4" width="223.4" height="138.4" rx="21" ry="21" fill="url(#gPanel)"/>
<path d="M1305.6 1495 L1305.6 1487.1 Q1305.6 1481.1 1311.6 1481.1 L1643.2 1481.1 Q1649.2 1481.1 1649.2 1487.1 L1649.2 1495 Z" fill="#6b6c6e"/>
<rect x="1305.6" y="1489.9" width="343.6" height="40" rx="6" ry="6" fill="#0c0c0c"/>
</g>
<g id="footer">
<text x="23.8" y="1548" font-size="20.3" font-style="italic" fill="#0a0a0a" stroke="#0a0a0a" stroke-width="0.2" textLength="104" lengthAdjust="spacingAndGlyphs">Forrás: KSH /</text>
<text x="132.5" y="1548" font-size="20.3" font-weight="bold" fill="#0a0a0a" stroke="#0a0a0a" stroke-width="0.45" textLength="168.5" lengthAdjust="spacingAndGlyphs">MTVA Sajtóadatbank</text>
<text x="306.2" y="1548" font-size="20.3" font-style="italic" fill="#0a0a0a" textLength="6.2" lengthAdjust="spacingAndGlyphs">/</text>
<text x="316.5" y="1548" font-size="20.3" font-weight="bold" fill="#0a0a0a" stroke="#0a0a0a" stroke-width="0.45" textLength="28.8" lengthAdjust="spacingAndGlyphs">MTI</text>
<rect x="365.5" y="1525.4" width="3.4" height="32.8" fill="#0a0a0a"/>
<rect x="453.6" y="1525.4" width="3.4" height="32.8" fill="#0a0a0a"/>
<rect x="534.2" y="1525.4" width="3.4" height="32.8" fill="#0a0a0a"/>
<circle cx="411.4" cy="1540.2" r="22.8" fill="none" stroke="#4f2d7f" stroke-width="2.8"/>
<line x1="388.5" y1="1540.2" x2="394" y2="1540.2" stroke="#4f2d7f" stroke-width="2.4"/>
<circle cx="411.4" cy="1540.2" r="17.4" fill="none" stroke="#0a0a0a" stroke-width="2.8"/>
<text x="411.4" y="1543.2" font-size="8.3" font-weight="bold" fill="#0a0a0a" text-anchor="middle" textLength="22.5" lengthAdjust="spacingAndGlyphs" stroke="#0a0a0a" stroke-width="0.3">MTVA</text>
<path d="M471.5 1549.1 L490.5 1549.1" stroke="#e11b2c" stroke-width="2.8" fill="none"/>
<path d="M501 1531.5 L520 1531.5" stroke="#e11b2c" stroke-width="2.8" fill="none"/>
<circle cx="495.8" cy="1540.3" r="8.4" fill="none" stroke="#e11b2c" stroke-width="3.2"/>
<circle cx="495.6" cy="1540.3" r="17.0" fill="none" stroke="#0a0a0a" stroke-width="2.9"/>
<text x="559.3" y="1548" font-size="21" font-style="italic" fill="#0a0a0a" stroke="#0a0a0a" stroke-width="0.2" textLength="86.8" lengthAdjust="spacingAndGlyphs">www.mti.hu</text>
</g>
</svg></body></html>
